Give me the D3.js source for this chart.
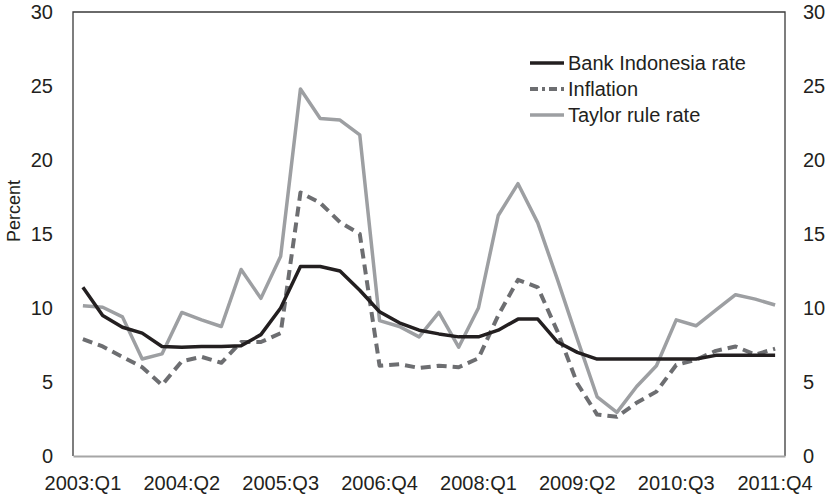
<!DOCTYPE html>
<html>
<head>
<meta charset="utf-8">
<script src="https://cdn.jsdelivr.net/npm/d3@7"></script>
<style>
  body { margin: 0; background: #fff; }
  text { font-family: "Liberation Sans", Arial, sans-serif; fill: #231f20; }
</style>
</head>
<body>
<div id="chart"></div>
<script>
// quarters 2003:Q1 .. 2011:Q4
var quarters = [];
for (var yr = 2003; yr <= 2011; yr++) {
    for (var q = 1; q <= 4; q++) quarters.push(yr + ":Q" + q);
}

var biRate = [11.4, 9.5, 8.7, 8.3, 7.4, 7.35, 7.4, 7.4, 7.45, 8.2, 10.0,
    12.8, 12.8, 12.5, 11.2, 9.75, 9.0, 8.5, 8.25, 8.05, 8.05, 8.5,
    9.25, 9.25, 7.7, 7.0, 6.55, 6.55, 6.55, 6.55, 6.55, 6.55,
    6.8, 6.8, 6.8, 6.8];

var inflation = [7.9, 7.4, 6.7, 6.0, 4.8, 6.4, 6.7, 6.3, 7.7, 7.7, 8.3,
    17.8, 17.1, 15.8, 15.0, 6.1, 6.2, 5.95, 6.1, 6.0, 6.6, 9.5,
    11.9, 11.4, 8.4, 4.9, 2.8, 2.65, 3.6, 4.35, 6.15, 6.5,
    7.1, 7.4, 6.85, 7.25];

var taylor = [10.15, 10.05, 9.4, 6.55, 6.9, 9.7, 9.2, 8.75, 12.6, 10.65, 13.5,
    24.8, 22.8, 22.7, 21.7, 9.15, 8.75, 8.05, 9.7, 7.35, 10.0, 16.25,
    18.4, 15.75, 11.9, 7.9, 4.0, 2.95, 4.7, 6.1, 9.2, 8.8,
    9.85, 10.9, 10.6, 10.2];

var xTickLabels = ["2003:Q1", "2004:Q2", "2005:Q3", "2006:Q4", "2008:Q1", "2009:Q2", "2010:Q3", "2011:Q4"];
var yTicks = [0, 5, 10, 15, 20, 25, 30];

var series = [
    {name: "Bank Indonesia rate", values: biRate, color: "#231f20", width: 3.5, dash: null},
    {name: "Inflation", values: inflation, color: "#6d6e71", width: 4, dash: "10,6"},
    {name: "Taylor rule rate", values: taylor, color: "#9d9fa2", width: 3.5, dash: null}
];

var margin = {top: 12, right: 49, bottom: 41, left: 73},
    width = 834 - margin.left - margin.right,
    height = 497 - margin.top - margin.bottom;

var svg = d3.select("#chart")
    .append("svg")
    .attr("width", 834)
    .attr("height", 497)
    .append("g")
    .attr("transform", "translate(" + margin.left + "," + margin.top + ")");

var x = d3.scaleBand().domain(quarters).range([0, width]);
var y = d3.scaleLinear().domain([0, 30]).range([height, 0]);

function cx(d) { return x(d) + x.bandwidth() / 2; }

// frame
svg.append("path")
    .attr("d", "M0," + height + "V0H" + width + "V" + height)
    .style("fill", "none")
    .style("stroke", "#3a3a3a")
    .style("stroke-width", 1.3);

// bottom axis
var xAxis = svg.append("g")
    .attr("transform", "translate(0," + height + ")")
    .call(d3.axisBottom(x).tickValues(xTickLabels).tickSize(0).tickPadding(20));
xAxis.select(".domain").style("stroke", "#a6a6a6").style("stroke-width", 2);
xAxis.selectAll("text").style("font-size", "20px").attr("font-family", null);

// left and right axes
var yLeft = svg.append("g")
    .call(d3.axisLeft(y).tickValues(yTicks).tickSize(0).tickPadding(20));
var yRight = svg.append("g")
    .attr("transform", "translate(" + width + ",0)")
    .call(d3.axisRight(y).tickValues(yTicks).tickSize(0).tickPadding(18));
[yLeft, yRight].forEach(function (g) {
    g.select(".domain").remove();
    g.selectAll("text").style("font-size", "20px").attr("font-family", null);
});

svg.append("text")
    .attr("transform", "translate(" + (-59) + "," + 199 + ") rotate(-90)")
    .attr("dy", "0.35em")
    .style("text-anchor", "middle")
    .style("font-size", "18px")
    .text("Percent");

// lines
var line = d3.line()
    .x(function (d, i) { return cx(quarters[i]); })
    .y(function (d) { return y(d); });

svg.selectAll("seriesLine")
    .data(series.slice().reverse())
    .enter().append("path")
    .attr("d", function (s) { return line(s.values); })
    .style("fill", "none")
    .style("stroke", function (s) { return s.color; })
    .style("stroke-width", function (s) { return s.width; })
    .style("stroke-dasharray", function (s) { return s.dash; })
    .style("stroke-linejoin", "round");

// legend
var legend = svg.selectAll("legendRow")
    .data(series).enter()
    .append("g")
    .attr("transform", function (s, i) { return "translate(457," + (51 + i * 26) + ")"; });

legend.append("line")
    .attr("x1", 0).attr("x2", 34)
    .style("stroke", function (s) { return s.color; })
    .style("stroke-width", function (s) { return s.width; })
    .style("stroke-dasharray", function (s) { return s.dash ? "8,4,3,4" : null; });

legend.append("text")
    .attr("x", 38)
    .attr("dy", "0.35em")
    .style("font-size", "20px")
    .text(function (s) { return s.name; });
</script>
</body>
</html>
